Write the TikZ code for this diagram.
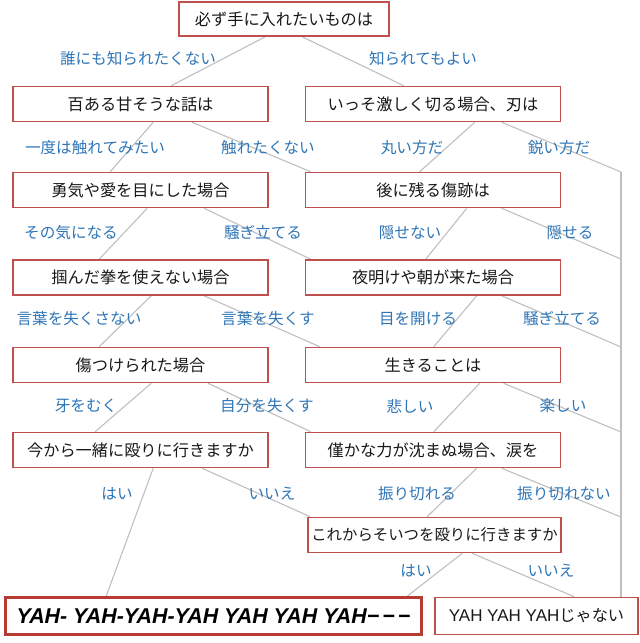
\documentclass[tikz,border=0pt]{standalone}
\usepackage{fontspec}
\setmainfont{Noto Sans CJK JP}
\newfontfamily\latinbi{Liberation Sans}
\usetikzlibrary{calc}
\definecolor{boxred}{HTML}{C0504D}
\definecolor{boldred}{HTML}{B83A32}
\definecolor{lblue}{HTML}{2E75B6}
\definecolor{lgray}{HTML}{BFBFBF}
\tikzset{
  qbox/.style={draw=boxred, line width=1.6pt, fill=white, minimum width=255pt, minimum height=35pt, inner sep=0pt, font=\fontsize{16.2}{17}\selectfont, text=black!90},
  lbl/.style={text=lblue, inner sep=0pt, font=\fontsize{15.6}{16}\selectfont},
  conn/.style={draw=lgray, line width=1.1pt},
}
\begin{document}
\begin{tikzpicture}[x=1pt,y=-1pt]
\useasboundingbox (0,0) rectangle (640,643);
% boxes (placed first for naming, redrawn on top later)
\path
 node[qbox, minimum width=210pt, minimum height=34pt] (top) at (284,19) {}
 node[qbox] (r1L) at (140.5,104) {}
 node[qbox] (r1R) at (433,104) {}
 node[qbox] (r2L) at (140.5,190) {}
 node[qbox] (r2R) at (433,190) {}
 node[qbox] (r3L) at (140.5,277.5) {}
 node[qbox] (r3R) at (433,277.5) {}
 node[qbox] (r4L) at (140.5,365) {}
 node[qbox] (r4R) at (433,365) {}
 node[qbox] (r5L) at (140.5,450) {}
 node[qbox] (r5R) at (433,450) {}
 node[qbox, minimum width=253pt] (q) at (434.5,535) {}
 node[qbox, draw=boldred, line width=2.6pt, minimum width=416pt, minimum height=37pt] (bold) at (213.5,616) {}
 node[qbox, minimum width=203pt, minimum height=37pt] (fin) at (536.5,616) {};
\coordinate (v1) at (621,172);
\coordinate (v2) at (621,259);
\coordinate (v3) at (621,347);
\coordinate (v4) at (621,432);
\coordinate (v5) at (621,517);
% connectors
\draw[conn] ($(top.south west)+(87,0)$) -- ($(r1L.north west)+(159,0)$);
\draw[conn] ($(top.south west)+(124,0)$) -- ($(r1R.north west)+(99,0)$);
\draw[conn] ($(r1L.south west)+(141,0)$) -- ($(r2L.north west)+(98,0)$);
\draw[conn] ($(r1L.south west)+(180,0)$) -- ($(r2R.north west)+(6,0)$);
\draw[conn] ($(r1R.south west)+(170,0)$) -- ($(r2R.north west)+(115,0)$);
\draw[conn] ($(r1R.south west)+(197,0)$) -- (v1);
\draw[conn] ($(r2L.south west)+(135,0)$) -- ($(r3L.north west)+(87,0)$);
\draw[conn] ($(r2L.south west)+(192,0)$) -- ($(r3R.north west)+(6,0)$);
\draw[conn] ($(r2R.south west)+(162,0)$) -- ($(r3R.north west)+(121,0)$);
\draw[conn] ($(r2R.south west)+(197,0)$) -- (v2);
\draw[conn] ($(r3L.south west)+(139,0)$) -- ($(r4L.north west)+(87,0)$);
\draw[conn] ($(r3L.south west)+(192,0)$) -- ($(r4R.north west)+(15,0)$);
\draw[conn] ($(r3R.south west)+(172,0)$) -- ($(r4R.north west)+(129,0)$);
\draw[conn] ($(r3R.south west)+(197,0)$) -- (v3);
\draw[conn] ($(r4L.south west)+(139,0)$) -- ($(r5L.north west)+(83,0)$);
\draw[conn] ($(r4L.south west)+(196,0)$) -- ($(r5R.north west)+(6,0)$);
\draw[conn] ($(r4R.south west)+(175,0)$) -- ($(r5R.north west)+(129,0)$);
\draw[conn] ($(r4R.south west)+(199,0)$) -- (v4);
\draw[conn] ($(r5L.south west)+(141,0)$) -- ($(bold.north west)+(102,0)$);
\draw[conn] ($(r5L.south west)+(190,0)$) -- ($(q.north west)+(3,0)$);
\draw[conn] ($(r5R.south west)+(172,0)$) -- ($(q.north west)+(120,0)$);
\draw[conn] ($(r5R.south west)+(197,0)$) -- (v5);
\draw[conn] ($(q.south west)+(155,0)$) -- ($(bold.north west)+(403,0)$);
\draw[conn] ($(q.south west)+(165,0)$) -- ($(fin.north west)+(140,0)$);
\draw[conn] (v1) -- (v1 |- fin.north);
% boxes with text
\node[qbox, minimum width=210pt, minimum height=34pt] at (top) {必ず手に入れたいものは};
\node[qbox] at (r1L) {百ある甘そうな話は};
\node[qbox] at (r1R) {いっそ激しく切る場合、刃は};
\node[qbox] at (r2L) {勇気や愛を目にした場合};
\node[qbox] at (r2R) {後に残る傷跡は};
\node[qbox] at (r3L) {掴んだ拳を使えない場合};
\node[qbox] at (r3R) {夜明けや朝が来た場合};
\node[qbox] at (r4L) {傷つけられた場合};
\node[qbox] at (r4R) {生きることは};
\node[qbox] at (r5L) {今から一緒に殴りに行きますか};
\node[qbox] at (r5R) {僅かな力が沈まぬ場合、涙を};
\node[qbox, minimum width=253pt, font=\fontsize{15.4}{16}\selectfont] at (q) {これからそいつを殴りに行きますか};
\node[qbox, draw=boldred, line width=2.6pt, minimum width=416pt, minimum height=37pt, font=\latinbi\fontsize{21.4}{22}\selectfont\bfseries\itshape, text=black] at (bold) {YAH- YAH-YAH-YAH YAH YAH YAH−\kern3pt−\kern3pt−};
\node[qbox, minimum width=203pt, minimum height=37pt] at (fin) {{\latinbi\fontsize{17}{18}\selectfont YAH YAH YAH}じゃない};
% labels
\node[lbl] (a1) at (138,59) {誰にも知られたくない};
\node[lbl] (a2) at (423,59) {知られてもよい};
\node[lbl] (b1) at (95,148) {一度は触れてみたい};
\node[lbl] (b2) at (268,148) {触れたくない};
\node[lbl] (b3) at (412,148) {丸い方だ};
\node[lbl] (b4) at (559,148) {鋭い方だ};
\node[lbl] (c1) at (71,233) {その気になる};
\node[lbl] (c2) at (263,233) {騒ぎ立てる};
\node[lbl] (c3) at (410,233) {隠せない};
\node[lbl] (c4) at (570,233) {隠せる};
\node[lbl] (d1) at (79,319) {言葉を失くさない};
\node[lbl] (d2) at (268,319) {言葉を失くす};
\node[lbl] (d3) at (418,319) {目を開ける};
\node[lbl] (d4) at (562,319) {騒ぎ立てる};
\node[lbl] (e1) at (86,406) {牙をむく};
\node[lbl] (e2) at (267,406) {自分を失くす};
\node[lbl] (e3) at (410,406) {悲しい};
\node[lbl] (e4) at (563,406) {楽しい};
\node[lbl] (f1) at (117,494) {はい};
\node[lbl] (f2) at (272,494) {いいえ};
\node[lbl] (f3) at (417,494) {振り切れる};
\node[lbl] (f4) at (564,494) {振り切れない};
\node[lbl] (g1) at (416,571) {はい};
\node[lbl] (g2) at (551,571) {いいえ};
\end{tikzpicture}
\end{document}
